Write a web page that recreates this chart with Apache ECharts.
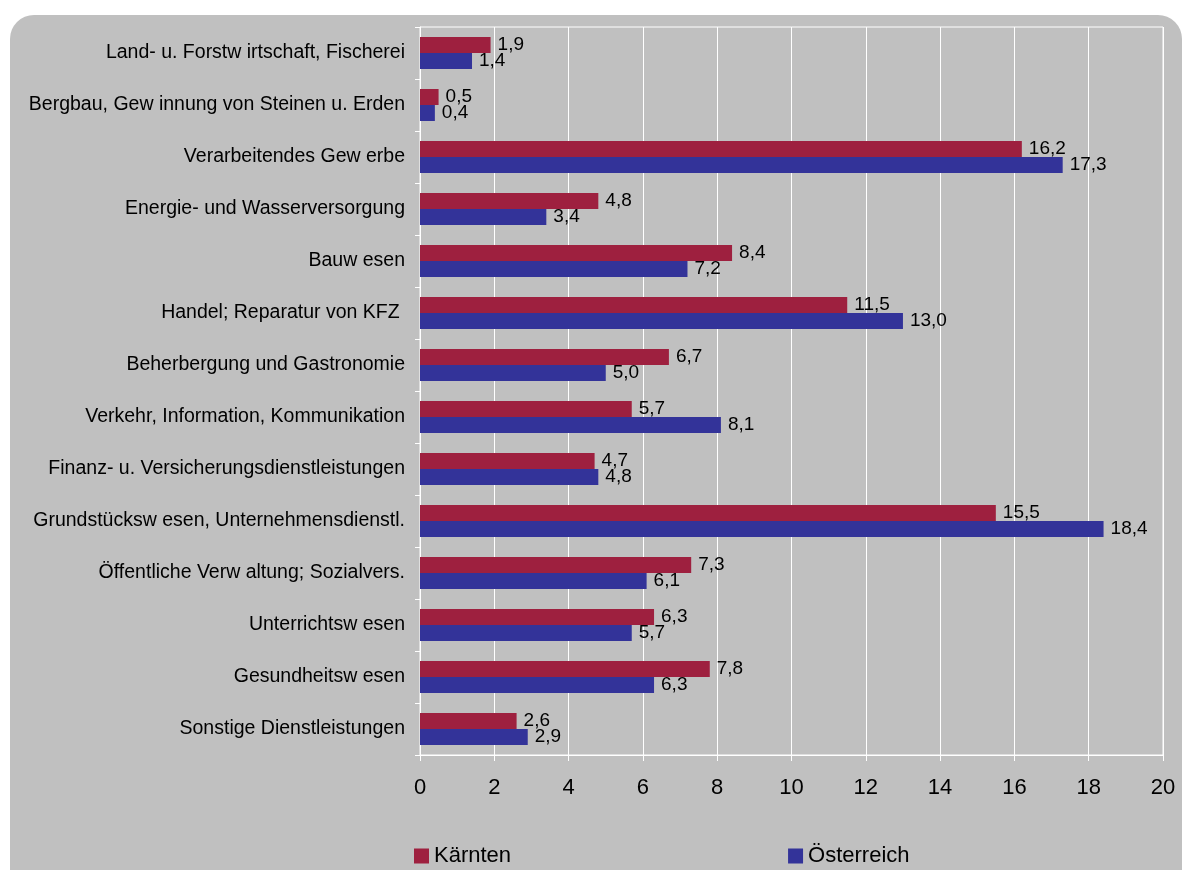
<!DOCTYPE html>
<html>
<head>
<meta charset="utf-8">
<script src="https://cdn.jsdelivr.net/npm/echarts@6/dist/echarts.min.js"></script>
<style>
html,body{margin:0;padding:0;background:#ffffff;}
#chart{width:1184px;height:870px;}
</style>
</head>
<body>
<div id="chart"></div>
<script>
const categories = [
  'Land- u. Forstw irtschaft, Fischerei',
  'Bergbau, Gew innung von Steinen u. Erden',
  'Verarbeitendes Gew erbe',
  'Energie- und Wasserversorgung',
  'Bauw esen',
  'Handel; Reparatur von KFZ ',
  'Beherbergung und Gastronomie',
  'Verkehr, Information, Kommunikation',
  'Finanz- u. Versicherungsdienstleistungen',
  'Grundstücksw esen, Unternehmensdienstl.',
  'Öffentliche Verw altung; Sozialvers.',
  'Unterrichtsw esen',
  'Gesundheitsw esen',
  'Sonstige Dienstleistungen'
];
const kaernten = [1.9, 0.5, 16.2, 4.8, 8.4, 11.5, 6.7, 5.7, 4.7, 15.5, 7.3, 6.3, 7.8, 2.6];
const oesterreich = [1.4, 0.4, 17.3, 3.4, 7.2, 13.0, 5.0, 8.1, 4.8, 18.4, 6.1, 5.7, 6.3, 2.9];
const seriesNames = ['Kärnten', 'Österreich'];
const xTicks = {min: 0, max: 20, interval: 2};

const FONT = '"Liberation Sans", Arial, sans-serif';
const fmt = v => v.toFixed(1).replace('.', ',');

const chart = echarts.init(document.getElementById('chart'), null, {renderer: 'canvas'});
chart.setOption({
  animation: false,
  backgroundColor: '#ffffff',
  graphic: [{
    type: 'rect', z: -10,
    shape: {x: 10, y: 15, width: 1172, height: 900, r: 24},
    style: {fill: '#c0c0c0'}
  }],
  textStyle: {fontFamily: FONT},
  grid: {
    left: 420, right: 21, top: 27, bottom: 115,
    show: true, borderColor: '#ffffff', borderWidth: 1, backgroundColor: 'transparent'
  },
  legend: {
    left: 414, top: 845, padding: 0,
    itemWidth: 15, itemHeight: 15, itemGap: 277,
    icon: 'rect',
    textStyle: {fontSize: 22, color: '#000', fontFamily: FONT},
    data: seriesNames
  },
  xAxis: {
    type: 'value', min: xTicks.min, max: xTicks.max, interval: xTicks.interval,
    axisLine: {show: true, lineStyle: {color: '#ffffff', width: 1}},
    axisTick: {show: true, length: 6, lineStyle: {color: '#ffffff'}},
    splitLine: {show: true, lineStyle: {color: '#ffffff', width: 1}},
    axisLabel: {fontSize: 22, color: '#000', margin: 22, fontFamily: FONT}
  },
  yAxis: {
    type: 'category', data: categories, inverse: true,
    axisLine: {show: true, lineStyle: {color: '#ffffff', width: 1}},
    axisTick: {show: true, length: 5, lineStyle: {color: '#ffffff'}},
    splitLine: {show: false},
    axisLabel: {fontSize: 19.5, color: '#000', margin: 15, fontFamily: FONT}
  },
  series: [
    {
      name: seriesNames[0], type: 'bar', data: kaernten,
      barWidth: 16, barGap: '0%',
      itemStyle: {color: '#9e203f'},
      label: {show: true, position: 'right', distance: 7, fontSize: 19, color: '#000', fontFamily: FONT,
              formatter: p => fmt(p.value)}
    },
    {
      name: seriesNames[1], type: 'bar', data: oesterreich,
      barWidth: 16, barGap: '0%',
      itemStyle: {color: '#333399'},
      label: {show: true, position: 'right', distance: 7, fontSize: 19, color: '#000', fontFamily: FONT,
              formatter: p => fmt(p.value)}
    }
  ]
});
</script>
</body>
</html>
